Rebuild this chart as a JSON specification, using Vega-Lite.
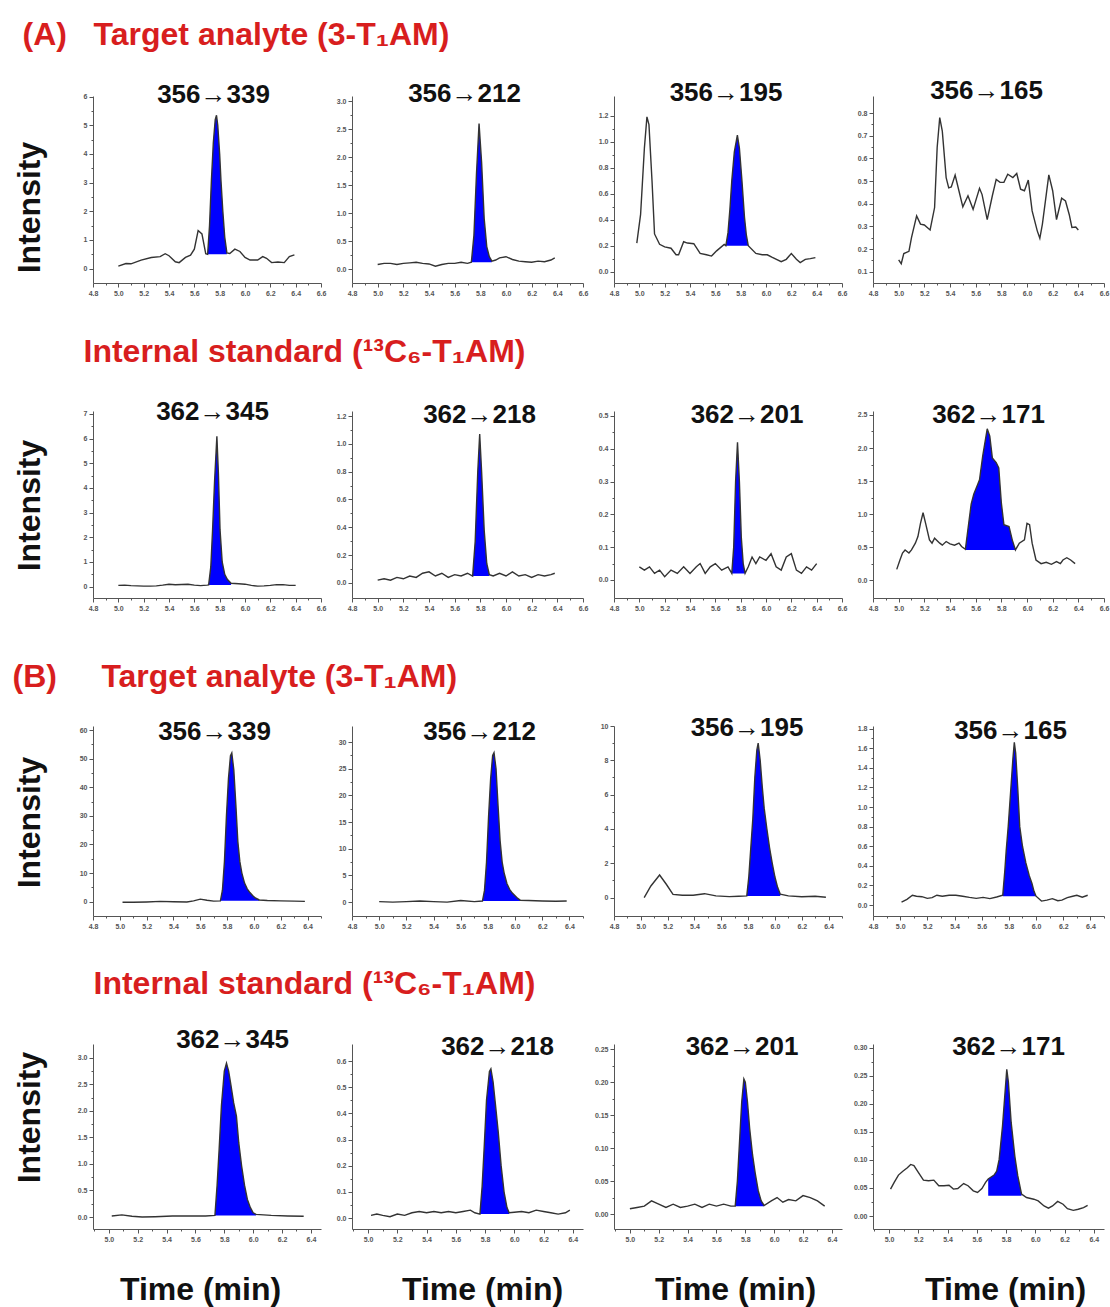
{
"$schema":"https://vega.github.io/schema/vega-lite/v6.json",
"padding":{"left":12,"top":18,"right":5,"bottom":3},
"background":"white",
"config":{"view":{"stroke":null},"font":"Liberation Sans",
"axis":{"grid":false,"domainColor":"#555","domainWidth":1,"tickColor":"#555","tickWidth":1,"labelFontSize":7,"labelFontWeight":"bold","labelColor":"#555","labelPadding":2,"labelOverlap":false,"labelFlush":false,"titleFontSize":32,"titleFontWeight":"bold","titleColor":"#111","titleFont":"Liberation Sans"},
"title":{"font":"Liberation Sans","fontSize":26,"fontWeight":"bold","color":"#111","frame":"group","baseline":"alphabetic","anchor":"middle"}},
"data":{"values":[
{"p":"a1","t":5.0,"v":0.09},{"p":"a1","t":5.06,"v":0.18},{"p":"a1","t":5.1,"v":0.17},{"p":"a1","t":5.18,"v":0.3},{"p":"a1","t":5.26,"v":0.39},{"p":"a1","t":5.33,"v":0.42},{"p":"a1","t":5.37,"v":0.52},{"p":"a1","t":5.4,"v":0.45},{"p":"a1","t":5.45,"v":0.24},{"p":"a1","t":5.48,"v":0.21},{"p":"a1","t":5.53,"v":0.39},{"p":"a1","t":5.57,"v":0.47},{"p":"a1","t":5.6,"v":0.68},{"p":"a1","t":5.63,"v":1.33},{"p":"a1","t":5.66,"v":1.21},{"p":"a1","t":5.69,"v":0.52},
{"p":"a1","t":5.705,"v":0.5,"b":0.5},{"p":"a1","t":5.72,"v":1.5,"b":0.5},{"p":"a1","t":5.735,"v":3.1,"b":0.5},{"p":"a1","t":5.75,"v":4.4,"b":0.5},{"p":"a1","t":5.765,"v":5.2,"b":0.5},{"p":"a1","t":5.775,"v":5.35,"b":0.5},{"p":"a1","t":5.785,"v":5.0,"b":0.5},{"p":"a1","t":5.8,"v":4.0,"b":0.5},{"p":"a1","t":5.81,"v":3.1,"b":0.5},{"p":"a1","t":5.825,"v":2.0,"b":0.5},{"p":"a1","t":5.84,"v":1.1,"b":0.5},{"p":"a1","t":5.857,"v":0.55,"b":0.5},
{"p":"a1","t":5.88,"v":0.53},{"p":"a1","t":5.92,"v":0.68},{"p":"a1","t":5.96,"v":0.6},{"p":"a1","t":6.0,"v":0.39},{"p":"a1","t":6.04,"v":0.3},{"p":"a1","t":6.1,"v":0.3},{"p":"a1","t":6.14,"v":0.42},{"p":"a1","t":6.17,"v":0.36},{"p":"a1","t":6.21,"v":0.21},{"p":"a1","t":6.26,"v":0.23},{"p":"a1","t":6.31,"v":0.21},{"p":"a1","t":6.35,"v":0.42},{"p":"a1","t":6.39,"v":0.48},

{"p":"a2","t":5.0,"v":0.08},{"p":"a2","t":5.05,"v":0.1},{"p":"a2","t":5.1,"v":0.1},{"p":"a2","t":5.15,"v":0.08},{"p":"a2","t":5.2,"v":0.1},{"p":"a2","t":5.25,"v":0.11},{"p":"a2","t":5.3,"v":0.12},{"p":"a2","t":5.35,"v":0.1},{"p":"a2","t":5.4,"v":0.09},{"p":"a2","t":5.45,"v":0.05},{"p":"a2","t":5.5,"v":0.08},{"p":"a2","t":5.55,"v":0.1},{"p":"a2","t":5.6,"v":0.1},{"p":"a2","t":5.65,"v":0.12},{"p":"a2","t":5.7,"v":0.1},
{"p":"a2","t":5.73,"v":0.12,"b":0.12},{"p":"a2","t":5.75,"v":0.6,"b":0.12},{"p":"a2","t":5.77,"v":1.7,"b":0.12},{"p":"a2","t":5.79,"v":2.6,"b":0.12},{"p":"a2","t":5.81,"v":1.9,"b":0.12},{"p":"a2","t":5.83,"v":0.9,"b":0.12},{"p":"a2","t":5.85,"v":0.4,"b":0.12},{"p":"a2","t":5.87,"v":0.22,"b":0.12},{"p":"a2","t":5.89,"v":0.14,"b":0.12},
{"p":"a2","t":5.92,"v":0.16},{"p":"a2","t":5.95,"v":0.2},{"p":"a2","t":6.0,"v":0.22},{"p":"a2","t":6.05,"v":0.17},{"p":"a2","t":6.1,"v":0.14},{"p":"a2","t":6.15,"v":0.13},{"p":"a2","t":6.2,"v":0.12},{"p":"a2","t":6.25,"v":0.14},{"p":"a2","t":6.3,"v":0.13},{"p":"a2","t":6.35,"v":0.16},{"p":"a2","t":6.38,"v":0.2},

{"p":"a3","t":4.98,"v":0.22},{"p":"a3","t":5.01,"v":0.44},{"p":"a3","t":5.04,"v":0.95},{"p":"a3","t":5.06,"v":1.19},{"p":"a3","t":5.076,"v":1.13},{"p":"a3","t":5.1,"v":0.7},{"p":"a3","t":5.12,"v":0.29},{"p":"a3","t":5.16,"v":0.21},{"p":"a3","t":5.2,"v":0.19},{"p":"a3","t":5.25,"v":0.18},{"p":"a3","t":5.29,"v":0.13},{"p":"a3","t":5.31,"v":0.13},{"p":"a3","t":5.35,"v":0.23},{"p":"a3","t":5.38,"v":0.22},{"p":"a3","t":5.43,"v":0.215},{"p":"a3","t":5.48,"v":0.14},{"p":"a3","t":5.53,"v":0.13},{"p":"a3","t":5.57,"v":0.12},{"p":"a3","t":5.61,"v":0.16},{"p":"a3","t":5.67,"v":0.21},
{"p":"a3","t":5.683,"v":0.2,"b":0.2},{"p":"a3","t":5.7,"v":0.3,"b":0.2},{"p":"a3","t":5.715,"v":0.48,"b":0.2},{"p":"a3","t":5.73,"v":0.7,"b":0.2},{"p":"a3","t":5.75,"v":0.92,"b":0.2},{"p":"a3","t":5.774,"v":1.05,"b":0.2},{"p":"a3","t":5.79,"v":0.95,"b":0.2},{"p":"a3","t":5.81,"v":0.7,"b":0.2},{"p":"a3","t":5.83,"v":0.42,"b":0.2},{"p":"a3","t":5.845,"v":0.28,"b":0.2},{"p":"a3","t":5.86,"v":0.2,"b":0.2},
{"p":"a3","t":5.92,"v":0.14},{"p":"a3","t":5.97,"v":0.13},{"p":"a3","t":6.01,"v":0.13},{"p":"a3","t":6.05,"v":0.11},{"p":"a3","t":6.12,"v":0.077},{"p":"a3","t":6.16,"v":0.095},{"p":"a3","t":6.2,"v":0.14},{"p":"a3","t":6.24,"v":0.095},{"p":"a3","t":6.27,"v":0.07},{"p":"a3","t":6.31,"v":0.095},{"p":"a3","t":6.35,"v":0.1},{"p":"a3","t":6.39,"v":0.108},

{"p":"a4","t":5.0,"v":0.152},{"p":"a4","t":5.02,"v":0.135},{"p":"a4","t":5.04,"v":0.18},{"p":"a4","t":5.08,"v":0.19},{"p":"a4","t":5.1,"v":0.25},{"p":"a4","t":5.14,"v":0.346},{"p":"a4","t":5.17,"v":0.31},{"p":"a4","t":5.2,"v":0.306},{"p":"a4","t":5.245,"v":0.284},{"p":"a4","t":5.28,"v":0.383},{"p":"a4","t":5.3,"v":0.648},{"p":"a4","t":5.32,"v":0.78},{"p":"a4","t":5.34,"v":0.72},{"p":"a4","t":5.37,"v":0.515},{"p":"a4","t":5.39,"v":0.47},{"p":"a4","t":5.41,"v":0.474},{"p":"a4","t":5.44,"v":0.526},{"p":"a4","t":5.47,"v":0.456},{"p":"a4","t":5.5,"v":0.386},{"p":"a4","t":5.54,"v":0.435},{"p":"a4","t":5.58,"v":0.375},{"p":"a4","t":5.63,"v":0.468},{"p":"a4","t":5.65,"v":0.44},{"p":"a4","t":5.69,"v":0.33},{"p":"a4","t":5.73,"v":0.435},{"p":"a4","t":5.76,"v":0.507},{"p":"a4","t":5.79,"v":0.494},{"p":"a4","t":5.82,"v":0.494},{"p":"a4","t":5.85,"v":0.53},{"p":"a4","t":5.89,"v":0.515},{"p":"a4","t":5.92,"v":0.533},{"p":"a4","t":5.95,"v":0.464},{"p":"a4","t":5.98,"v":0.457},{"p":"a4","t":6.01,"v":0.504},{"p":"a4","t":6.04,"v":0.368},{"p":"a4","t":6.08,"v":0.28},{"p":"a4","t":6.1,"v":0.247},{"p":"a4","t":6.12,"v":0.31},{"p":"a4","t":6.15,"v":0.44},{"p":"a4","t":6.17,"v":0.527},{"p":"a4","t":6.2,"v":0.457},{"p":"a4","t":6.23,"v":0.33},{"p":"a4","t":6.27,"v":0.424},{"p":"a4","t":6.3,"v":0.412},{"p":"a4","t":6.33,"v":0.35},{"p":"a4","t":6.35,"v":0.295},{"p":"a4","t":6.38,"v":0.297},{"p":"a4","t":6.4,"v":0.284},

{"p":"b1","t":5.0,"v":0.05},{"p":"b1","t":5.05,"v":0.06},{"p":"b1","t":5.1,"v":0.04},{"p":"b1","t":5.15,"v":0.03},{"p":"b1","t":5.2,"v":0.02},{"p":"b1","t":5.25,"v":0.02},{"p":"b1","t":5.3,"v":0.03},{"p":"b1","t":5.35,"v":0.06},{"p":"b1","t":5.4,"v":0.1},{"p":"b1","t":5.45,"v":0.08},{"p":"b1","t":5.5,"v":0.09},{"p":"b1","t":5.55,"v":0.1},{"p":"b1","t":5.6,"v":0.06},{"p":"b1","t":5.65,"v":0.04},{"p":"b1","t":5.7,"v":0.06},
{"p":"b1","t":5.713,"v":0.07,"b":0.07},{"p":"b1","t":5.73,"v":0.8,"b":0.07},{"p":"b1","t":5.744,"v":2.3,"b":0.07},{"p":"b1","t":5.76,"v":4.3,"b":0.07},{"p":"b1","t":5.778,"v":6.1,"b":0.07},{"p":"b1","t":5.79,"v":4.6,"b":0.07},{"p":"b1","t":5.803,"v":2.3,"b":0.07},{"p":"b1","t":5.82,"v":1.0,"b":0.07},{"p":"b1","t":5.84,"v":0.5,"b":0.07},{"p":"b1","t":5.86,"v":0.3,"b":0.07},{"p":"b1","t":5.89,"v":0.14,"b":0.07},
{"p":"b1","t":5.95,"v":0.12},{"p":"b1","t":6.0,"v":0.1},{"p":"b1","t":6.05,"v":0.05},{"p":"b1","t":6.1,"v":0.02},{"p":"b1","t":6.15,"v":0.03},{"p":"b1","t":6.2,"v":0.05},{"p":"b1","t":6.25,"v":0.08},{"p":"b1","t":6.3,"v":0.08},{"p":"b1","t":6.35,"v":0.05},{"p":"b1","t":6.4,"v":0.05},

{"p":"b2","t":5.0,"v":0.02},{"p":"b2","t":5.05,"v":0.03},{"p":"b2","t":5.1,"v":0.02},{"p":"b2","t":5.15,"v":0.04},{"p":"b2","t":5.2,"v":0.03},{"p":"b2","t":5.25,"v":0.05},{"p":"b2","t":5.3,"v":0.04},{"p":"b2","t":5.35,"v":0.07},{"p":"b2","t":5.4,"v":0.08},{"p":"b2","t":5.45,"v":0.05},{"p":"b2","t":5.5,"v":0.07},{"p":"b2","t":5.55,"v":0.04},{"p":"b2","t":5.6,"v":0.06},{"p":"b2","t":5.65,"v":0.05},{"p":"b2","t":5.7,"v":0.07},
{"p":"b2","t":5.74,"v":0.05,"b":0.05},{"p":"b2","t":5.76,"v":0.3,"b":0.05},{"p":"b2","t":5.78,"v":0.8,"b":0.05},{"p":"b2","t":5.795,"v":1.07,"b":0.05},{"p":"b2","t":5.81,"v":0.8,"b":0.05},{"p":"b2","t":5.83,"v":0.38,"b":0.05},{"p":"b2","t":5.85,"v":0.14,"b":0.05},{"p":"b2","t":5.87,"v":0.06,"b":0.05},
{"p":"b2","t":5.9,"v":0.05},{"p":"b2","t":5.95,"v":0.07},{"p":"b2","t":6.0,"v":0.05},{"p":"b2","t":6.05,"v":0.08},{"p":"b2","t":6.1,"v":0.05},{"p":"b2","t":6.15,"v":0.06},{"p":"b2","t":6.2,"v":0.04},{"p":"b2","t":6.25,"v":0.06},{"p":"b2","t":6.3,"v":0.05},{"p":"b2","t":6.35,"v":0.06},{"p":"b2","t":6.38,"v":0.07},

{"p":"b3","t":5.0,"v":0.04},{"p":"b3","t":5.04,"v":0.03},{"p":"b3","t":5.08,"v":0.04},{"p":"b3","t":5.12,"v":0.02},{"p":"b3","t":5.16,"v":0.03},{"p":"b3","t":5.2,"v":0.01},{"p":"b3","t":5.25,"v":0.03},{"p":"b3","t":5.3,"v":0.02},{"p":"b3","t":5.35,"v":0.04},{"p":"b3","t":5.4,"v":0.02},{"p":"b3","t":5.45,"v":0.04},{"p":"b3","t":5.48,"v":0.05},{"p":"b3","t":5.52,"v":0.02},{"p":"b3","t":5.56,"v":0.04},{"p":"b3","t":5.6,"v":0.05},{"p":"b3","t":5.65,"v":0.03},{"p":"b3","t":5.7,"v":0.04},
{"p":"b3","t":5.73,"v":0.02,"b":0.02},{"p":"b3","t":5.745,"v":0.1,"b":0.02},{"p":"b3","t":5.76,"v":0.3,"b":0.02},{"p":"b3","t":5.775,"v":0.42,"b":0.02},{"p":"b3","t":5.79,"v":0.3,"b":0.02},{"p":"b3","t":5.805,"v":0.13,"b":0.02},{"p":"b3","t":5.82,"v":0.05,"b":0.02},{"p":"b3","t":5.835,"v":0.02,"b":0.02},
{"p":"b3","t":5.86,"v":0.04},{"p":"b3","t":5.89,"v":0.07},{"p":"b3","t":5.92,"v":0.05},{"p":"b3","t":5.95,"v":0.07},{"p":"b3","t":6.0,"v":0.06},{"p":"b3","t":6.04,"v":0.08},{"p":"b3","t":6.08,"v":0.04},{"p":"b3","t":6.12,"v":0.03},{"p":"b3","t":6.16,"v":0.07},{"p":"b3","t":6.2,"v":0.08},{"p":"b3","t":6.24,"v":0.03},{"p":"b3","t":6.28,"v":0.02},{"p":"b3","t":6.32,"v":0.04},{"p":"b3","t":6.36,"v":0.03},{"p":"b3","t":6.4,"v":0.05},

{"p":"b4","t":4.985,"v":0.163},{"p":"b4","t":5.01,"v":0.305},{"p":"b4","t":5.03,"v":0.41},{"p":"b4","t":5.05,"v":0.457},{"p":"b4","t":5.08,"v":0.41},{"p":"b4","t":5.1,"v":0.457},{"p":"b4","t":5.13,"v":0.56},{"p":"b4","t":5.15,"v":0.66},{"p":"b4","t":5.17,"v":0.86},{"p":"b4","t":5.19,"v":1.02},{"p":"b4","t":5.21,"v":0.86},{"p":"b4","t":5.24,"v":0.61},{"p":"b4","t":5.26,"v":0.56},{"p":"b4","t":5.28,"v":0.635},{"p":"b4","t":5.32,"v":0.56},{"p":"b4","t":5.34,"v":0.53},{"p":"b4","t":5.37,"v":0.585},{"p":"b4","t":5.4,"v":0.55},{"p":"b4","t":5.435,"v":0.53},{"p":"b4","t":5.47,"v":0.56},{"p":"b4","t":5.49,"v":0.51},
{"p":"b4","t":5.52,"v":0.467,"b":0.457},{"p":"b4","t":5.545,"v":0.85,"b":0.457},{"p":"b4","t":5.565,"v":1.15,"b":0.457},{"p":"b4","t":5.585,"v":1.3,"b":0.457},{"p":"b4","t":5.61,"v":1.42,"b":0.457},{"p":"b4","t":5.63,"v":1.52,"b":0.457},{"p":"b4","t":5.655,"v":1.88,"b":0.457},{"p":"b4","t":5.69,"v":2.29,"b":0.457},{"p":"b4","t":5.71,"v":2.18,"b":0.457},{"p":"b4","t":5.73,"v":1.85,"b":0.457},{"p":"b4","t":5.76,"v":1.78,"b":0.457},{"p":"b4","t":5.78,"v":1.7,"b":0.457},{"p":"b4","t":5.8,"v":1.17,"b":0.457},{"p":"b4","t":5.82,"v":0.84,"b":0.457},{"p":"b4","t":5.86,"v":0.81,"b":0.457},{"p":"b4","t":5.885,"v":0.61,"b":0.457},{"p":"b4","t":5.91,"v":0.457,"b":0.457},
{"p":"b4","t":5.94,"v":0.56},{"p":"b4","t":5.98,"v":0.61},{"p":"b4","t":6.0,"v":0.86},{"p":"b4","t":6.02,"v":0.84},{"p":"b4","t":6.04,"v":0.56},{"p":"b4","t":6.07,"v":0.305},{"p":"b4","t":6.11,"v":0.25},{"p":"b4","t":6.15,"v":0.27},{"p":"b4","t":6.19,"v":0.24},{"p":"b4","t":6.23,"v":0.28},{"p":"b4","t":6.26,"v":0.25},{"p":"b4","t":6.28,"v":0.305},{"p":"b4","t":6.31,"v":0.34},{"p":"b4","t":6.34,"v":0.305},{"p":"b4","t":6.375,"v":0.25},

{"p":"c1","t":5.02,"v":-0.2},{"p":"c1","t":5.1,"v":-0.2},{"p":"c1","t":5.2,"v":-0.1},{"p":"c1","t":5.3,"v":0.1},{"p":"c1","t":5.4,"v":0.0},{"p":"c1","t":5.5,"v":-0.1},{"p":"c1","t":5.55,"v":0.3},{"p":"c1","t":5.6,"v":0.9},{"p":"c1","t":5.65,"v":0.5},{"p":"c1","t":5.7,"v":0.2},
{"p":"c1","t":5.75,"v":0.3,"b":0.3},{"p":"c1","t":5.765,"v":4,"b":0.3},{"p":"c1","t":5.78,"v":14,"b":0.3},{"p":"c1","t":5.795,"v":30,"b":0.3},{"p":"c1","t":5.81,"v":43,"b":0.3},{"p":"c1","t":5.825,"v":51,"b":0.3},{"p":"c1","t":5.835,"v":52,"b":0.3},{"p":"c1","t":5.85,"v":46,"b":0.3},{"p":"c1","t":5.865,"v":34,"b":0.3},{"p":"c1","t":5.88,"v":21,"b":0.3},{"p":"c1","t":5.895,"v":14,"b":0.3},{"p":"c1","t":5.91,"v":10,"b":0.3},{"p":"c1","t":5.93,"v":6.5,"b":0.3},{"p":"c1","t":5.95,"v":4.5,"b":0.3},{"p":"c1","t":5.97,"v":3.2,"b":0.3},{"p":"c1","t":5.99,"v":2.2,"b":0.3},{"p":"c1","t":6.01,"v":1.3,"b":0.3},{"p":"c1","t":6.04,"v":0.6,"b":0.3},
{"p":"c1","t":6.1,"v":0.4},{"p":"c1","t":6.2,"v":0.3},{"p":"c1","t":6.3,"v":0.2},{"p":"c1","t":6.38,"v":0.1},

{"p":"c2","t":5.0,"v":0.1},{"p":"c2","t":5.1,"v":0.0},{"p":"c2","t":5.2,"v":0.1},{"p":"c2","t":5.3,"v":0.2},{"p":"c2","t":5.4,"v":0.1},{"p":"c2","t":5.5,"v":0.0},{"p":"c2","t":5.6,"v":0.3},{"p":"c2","t":5.7,"v":0.1},
{"p":"c2","t":5.76,"v":0.2,"b":0.2},{"p":"c2","t":5.775,"v":2.2,"b":0.2},{"p":"c2","t":5.79,"v":7.5,"b":0.2},{"p":"c2","t":5.805,"v":16,"b":0.2},{"p":"c2","t":5.82,"v":23,"b":0.2},{"p":"c2","t":5.835,"v":27.5,"b":0.2},{"p":"c2","t":5.845,"v":28,"b":0.2},{"p":"c2","t":5.86,"v":25,"b":0.2},{"p":"c2","t":5.875,"v":18,"b":0.2},{"p":"c2","t":5.89,"v":11.5,"b":0.2},{"p":"c2","t":5.905,"v":7.5,"b":0.2},{"p":"c2","t":5.92,"v":5.4,"b":0.2},{"p":"c2","t":5.94,"v":3.5,"b":0.2},{"p":"c2","t":5.96,"v":2.4,"b":0.2},{"p":"c2","t":5.98,"v":1.7,"b":0.2},{"p":"c2","t":6.0,"v":1.2,"b":0.2},{"p":"c2","t":6.02,"v":0.7,"b":0.2},{"p":"c2","t":6.04,"v":0.35,"b":0.2},
{"p":"c2","t":6.1,"v":0.3},{"p":"c2","t":6.2,"v":0.2},{"p":"c2","t":6.3,"v":0.15},{"p":"c2","t":6.38,"v":0.2},

{"p":"c3","t":5.025,"v":0.0},{"p":"c3","t":5.075,"v":0.68},{"p":"c3","t":5.14,"v":1.32},{"p":"c3","t":5.19,"v":0.78},{"p":"c3","t":5.24,"v":0.19},{"p":"c3","t":5.31,"v":0.14},{"p":"c3","t":5.39,"v":0.14},{"p":"c3","t":5.475,"v":0.23},{"p":"c3","t":5.56,"v":0.1},{"p":"c3","t":5.66,"v":0.06},{"p":"c3","t":5.73,"v":0.08},
{"p":"c3","t":5.79,"v":0.1,"b":0.1},{"p":"c3","t":5.805,"v":1.2,"b":0.1},{"p":"c3","t":5.82,"v":2.9,"b":0.1},{"p":"c3","t":5.835,"v":4.6,"b":0.1},{"p":"c3","t":5.85,"v":7.0,"b":0.1},{"p":"c3","t":5.865,"v":8.6,"b":0.1},{"p":"c3","t":5.875,"v":9.0,"b":0.1},{"p":"c3","t":5.89,"v":8.0,"b":0.1},{"p":"c3","t":5.905,"v":6.5,"b":0.1},{"p":"c3","t":5.92,"v":5.2,"b":0.1},{"p":"c3","t":5.94,"v":4.0,"b":0.1},{"p":"c3","t":5.96,"v":2.9,"b":0.1},{"p":"c3","t":5.98,"v":2.0,"b":0.1},{"p":"c3","t":6.0,"v":1.2,"b":0.1},{"p":"c3","t":6.02,"v":0.6,"b":0.1},{"p":"c3","t":6.04,"v":0.2,"b":0.1},
{"p":"c3","t":6.1,"v":0.1},{"p":"c3","t":6.2,"v":0.05},{"p":"c3","t":6.3,"v":0.08},{"p":"c3","t":6.38,"v":0.02},

{"p":"c4","t":5.01,"v":0.03},{"p":"c4","t":5.05,"v":0.058},{"p":"c4","t":5.09,"v":0.1},{"p":"c4","t":5.12,"v":0.09},{"p":"c4","t":5.16,"v":0.085},{"p":"c4","t":5.2,"v":0.068},{"p":"c4","t":5.235,"v":0.075},{"p":"c4","t":5.27,"v":0.1},{"p":"c4","t":5.31,"v":0.09},{"p":"c4","t":5.36,"v":0.1},{"p":"c4","t":5.41,"v":0.1},{"p":"c4","t":5.46,"v":0.09},{"p":"c4","t":5.51,"v":0.078},{"p":"c4","t":5.56,"v":0.068},{"p":"c4","t":5.61,"v":0.078},{"p":"c4","t":5.66,"v":0.065},{"p":"c4","t":5.71,"v":0.082},
{"p":"c4","t":5.755,"v":0.1,"b":0.09},{"p":"c4","t":5.77,"v":0.35,"b":0.09},{"p":"c4","t":5.78,"v":0.55,"b":0.09},{"p":"c4","t":5.795,"v":0.8,"b":0.09},{"p":"c4","t":5.815,"v":1.2,"b":0.09},{"p":"c4","t":5.83,"v":1.5,"b":0.09},{"p":"c4","t":5.84,"v":1.66,"b":0.09},{"p":"c4","t":5.85,"v":1.55,"b":0.09},{"p":"c4","t":5.865,"v":1.2,"b":0.09},{"p":"c4","t":5.88,"v":0.8,"b":0.09},{"p":"c4","t":5.9,"v":0.6,"b":0.09},{"p":"c4","t":5.925,"v":0.43,"b":0.09},{"p":"c4","t":5.95,"v":0.3,"b":0.09},{"p":"c4","t":5.97,"v":0.22,"b":0.09},{"p":"c4","t":5.985,"v":0.14,"b":0.09},{"p":"c4","t":6.0,"v":0.09,"b":0.09},
{"p":"c4","t":6.04,"v":0.04},{"p":"c4","t":6.08,"v":0.05},{"p":"c4","t":6.12,"v":0.065},{"p":"c4","t":6.16,"v":0.044},{"p":"c4","t":6.19,"v":0.05},{"p":"c4","t":6.23,"v":0.075},{"p":"c4","t":6.27,"v":0.09},{"p":"c4","t":6.3,"v":0.1},{"p":"c4","t":6.34,"v":0.08},{"p":"c4","t":6.38,"v":0.1},

{"p":"d1","t":5.02,"v":0.02},{"p":"d1","t":5.09,"v":0.04},{"p":"d1","t":5.16,"v":0.013},{"p":"d1","t":5.23,"v":0.0},{"p":"d1","t":5.32,"v":0.006},{"p":"d1","t":5.44,"v":0.02},{"p":"d1","t":5.55,"v":0.02},{"p":"d1","t":5.67,"v":0.02},
{"p":"d1","t":5.735,"v":0.03,"b":0.03},{"p":"d1","t":5.75,"v":0.6,"b":0.03},{"p":"d1","t":5.764,"v":1.27,"b":0.03},{"p":"d1","t":5.78,"v":2.1,"b":0.03},{"p":"d1","t":5.8,"v":2.75,"b":0.03},{"p":"d1","t":5.815,"v":2.9,"b":0.03},{"p":"d1","t":5.83,"v":2.75,"b":0.03},{"p":"d1","t":5.845,"v":2.5,"b":0.03},{"p":"d1","t":5.865,"v":2.15,"b":0.03},{"p":"d1","t":5.884,"v":1.9,"b":0.03},{"p":"d1","t":5.9,"v":1.4,"b":0.03},{"p":"d1","t":5.92,"v":0.96,"b":0.03},{"p":"d1","t":5.94,"v":0.6,"b":0.03},{"p":"d1","t":5.96,"v":0.33,"b":0.03},{"p":"d1","t":5.98,"v":0.18,"b":0.03},{"p":"d1","t":6.0,"v":0.08,"b":0.03},{"p":"d1","t":6.02,"v":0.05,"b":0.03},
{"p":"d1","t":6.125,"v":0.03},{"p":"d1","t":6.24,"v":0.02},{"p":"d1","t":6.35,"v":0.013},

{"p":"d2","t":5.02,"v":0.01},{"p":"d2","t":5.06,"v":0.015},{"p":"d2","t":5.1,"v":0.01},{"p":"d2","t":5.15,"v":0.005},{"p":"d2","t":5.2,"v":0.015},{"p":"d2","t":5.25,"v":0.01},{"p":"d2","t":5.3,"v":0.02},{"p":"d2","t":5.35,"v":0.025},{"p":"d2","t":5.4,"v":0.02},{"p":"d2","t":5.45,"v":0.025},{"p":"d2","t":5.5,"v":0.02},{"p":"d2","t":5.55,"v":0.025},{"p":"d2","t":5.6,"v":0.02},{"p":"d2","t":5.65,"v":0.025},{"p":"d2","t":5.7,"v":0.03},{"p":"d2","t":5.73,"v":0.02},
{"p":"d2","t":5.765,"v":0.015,"b":0.015},{"p":"d2","t":5.78,"v":0.12,"b":0.015},{"p":"d2","t":5.795,"v":0.28,"b":0.015},{"p":"d2","t":5.81,"v":0.45,"b":0.015},{"p":"d2","t":5.83,"v":0.56,"b":0.015},{"p":"d2","t":5.84,"v":0.57,"b":0.015},{"p":"d2","t":5.855,"v":0.52,"b":0.015},{"p":"d2","t":5.87,"v":0.44,"b":0.015},{"p":"d2","t":5.89,"v":0.33,"b":0.015},{"p":"d2","t":5.91,"v":0.2,"b":0.015},{"p":"d2","t":5.93,"v":0.1,"b":0.015},{"p":"d2","t":5.95,"v":0.04,"b":0.015},{"p":"d2","t":5.965,"v":0.02,"b":0.015},
{"p":"d2","t":6.0,"v":0.022},{"p":"d2","t":6.05,"v":0.025},{"p":"d2","t":6.1,"v":0.02},{"p":"d2","t":6.15,"v":0.03},{"p":"d2","t":6.2,"v":0.025},{"p":"d2","t":6.25,"v":0.02},{"p":"d2","t":6.3,"v":0.015},{"p":"d2","t":6.35,"v":0.02},{"p":"d2","t":6.38,"v":0.03},

{"p":"d3","t":5.0,"v":0.008},{"p":"d3","t":5.05,"v":0.01},{"p":"d3","t":5.1,"v":0.012},{"p":"d3","t":5.15,"v":0.02},{"p":"d3","t":5.2,"v":0.015},{"p":"d3","t":5.25,"v":0.01},{"p":"d3","t":5.3,"v":0.015},{"p":"d3","t":5.35,"v":0.01},{"p":"d3","t":5.4,"v":0.012},{"p":"d3","t":5.45,"v":0.015},{"p":"d3","t":5.5,"v":0.01},{"p":"d3","t":5.55,"v":0.015},{"p":"d3","t":5.6,"v":0.012},{"p":"d3","t":5.65,"v":0.015},{"p":"d3","t":5.7,"v":0.012},
{"p":"d3","t":5.73,"v":0.012,"b":0.012},{"p":"d3","t":5.745,"v":0.05,"b":0.012},{"p":"d3","t":5.76,"v":0.11,"b":0.012},{"p":"d3","t":5.775,"v":0.17,"b":0.012},{"p":"d3","t":5.79,"v":0.205,"b":0.012},{"p":"d3","t":5.8,"v":0.2,"b":0.012},{"p":"d3","t":5.815,"v":0.17,"b":0.012},{"p":"d3","t":5.83,"v":0.13,"b":0.012},{"p":"d3","t":5.85,"v":0.09,"b":0.012},{"p":"d3","t":5.87,"v":0.06,"b":0.012},{"p":"d3","t":5.89,"v":0.035,"b":0.012},{"p":"d3","t":5.91,"v":0.02,"b":0.012},{"p":"d3","t":5.93,"v":0.013,"b":0.012},
{"p":"d3","t":5.98,"v":0.02},{"p":"d3","t":6.02,"v":0.025},{"p":"d3","t":6.06,"v":0.018},{"p":"d3","t":6.1,"v":0.022},{"p":"d3","t":6.15,"v":0.02},{"p":"d3","t":6.2,"v":0.028},{"p":"d3","t":6.25,"v":0.025},{"p":"d3","t":6.3,"v":0.02},{"p":"d3","t":6.35,"v":0.012},

{"p":"d4","t":5.01,"v":0.048},{"p":"d4","t":5.035,"v":0.06},{"p":"d4","t":5.064,"v":0.073},{"p":"d4","t":5.094,"v":0.08},{"p":"d4","t":5.125,"v":0.086},{"p":"d4","t":5.148,"v":0.092},{"p":"d4","t":5.17,"v":0.09},{"p":"d4","t":5.2,"v":0.078},{"p":"d4","t":5.235,"v":0.064},{"p":"d4","t":5.27,"v":0.063},{"p":"d4","t":5.306,"v":0.064},{"p":"d4","t":5.34,"v":0.054},{"p":"d4","t":5.376,"v":0.054},{"p":"d4","t":5.41,"v":0.055},{"p":"d4","t":5.44,"v":0.048},{"p":"d4","t":5.47,"v":0.049},{"p":"d4","t":5.51,"v":0.058},{"p":"d4","t":5.54,"v":0.054},{"p":"d4","t":5.576,"v":0.045},{"p":"d4","t":5.605,"v":0.042},{"p":"d4","t":5.635,"v":0.049},{"p":"d4","t":5.66,"v":0.06},
{"p":"d4","t":5.678,"v":0.066,"b":0.036},{"p":"d4","t":5.718,"v":0.073,"b":0.036},{"p":"d4","t":5.736,"v":0.08,"b":0.036},{"p":"d4","t":5.753,"v":0.101,"b":0.036},{"p":"d4","t":5.776,"v":0.161,"b":0.036},{"p":"d4","t":5.805,"v":0.262,"b":0.036},{"p":"d4","t":5.816,"v":0.239,"b":0.036},{"p":"d4","t":5.835,"v":0.167,"b":0.036},{"p":"d4","t":5.86,"v":0.107,"b":0.036},{"p":"d4","t":5.88,"v":0.072,"b":0.036},{"p":"d4","t":5.906,"v":0.039,"b":0.036},
{"p":"d4","t":5.94,"v":0.033},{"p":"d4","t":5.99,"v":0.03},{"p":"d4","t":6.02,"v":0.027},{"p":"d4","t":6.06,"v":0.018},{"p":"d4","t":6.09,"v":0.014},{"p":"d4","t":6.118,"v":0.018},{"p":"d4","t":6.153,"v":0.026},{"p":"d4","t":6.19,"v":0.021},{"p":"d4","t":6.22,"v":0.013},{"p":"d4","t":6.26,"v":0.01},{"p":"d4","t":6.294,"v":0.012},{"p":"d4","t":6.33,"v":0.015},{"p":"d4","t":6.358,"v":0.019}
]},
"columns":4,
"spacing":{"row":128,"column":31},
"bounds":"flush",
"concat":[

{"width":228,"height":187,
"resolve":{"axis":{"x":"independent","y":"independent"}},
"layer":[
{"encoding":{"x":{"field":"t","type":"quantitative","title":null,"scale":{"domain":[4.8,6.6],"nice":false,"zero":false},"axis":{"values":[4.8,4.9,5,5.1,5.2,5.3,5.4,5.5,5.6,5.7,5.8,5.9,6,6.1,6.2,6.3,6.4,6.5,6.6],"labelExpr":"abs(datum.value*5-round(datum.value*5))<0.01 ? format(datum.value,'.1f') : ''","tickSize":{"condition":{"test":"abs(datum.value*5-round(datum.value*5))<0.01","value":4},"value":2}}},
"y":{"field":"v","type":"quantitative","title":"Intensity","scale":{"domain":[-0.5,6.02],"nice":false,"zero":false},"axis":{"values":[0,0.5,1,1.5,2,2.5,3,3.5,4,4.5,5,5.5,6],"labelExpr":"abs(datum.value-round(datum.value))<0.01 ? format(datum.value,'d') : ''","tickSize":{"condition":{"test":"abs(datum.value-round(datum.value))<0.01","value":4},"value":2},"titleX":-64,"titleY":111,"titleAngle":270,"titleBaseline":"middle","titleAlign":"center"}}},
"layer":[{"transform":[{"filter":"datum.p=='a1' && isValid(datum.b)"}],"mark":{"type":"area","color":"#0000ff"},"encoding":{"y2":{"field":"b"}}},{"transform":[{"filter":"datum.p=='a1'"}],"mark":{"type":"line","color":"#333","strokeWidth":1.4},"encoding":{}}]},
{"transform":[{"filter":"datum.p=='a1'"}],"mark":{"type":"point","opacity":0},"encoding":{
"x":{"field":"t","type":"quantitative","scale":{"domain":[4.8,6.6],"nice":false,"zero":false},"axis":{"orient":"top","title":"(A)\u00a0\u00a0\u00a0Target analyte (3-T₁AM)","domain":false,"ticks":false,"labels":false,"titleX":-71,"titleY":-52,"titleAlign":"left","titleBaseline":"alphabetic","titleAngle":0,"titleColor":"#d81e1e","titleFontSize":32}},
"y":{"field":"v","type":"quantitative","scale":{"domain":[-0.5,6.02],"nice":false,"zero":false},"axis":{"orient":"right","title":"356→339","domain":false,"ticks":false,"labels":false,"titleX":-108,"titleY":6,"titleAlign":"center","titleBaseline":"alphabetic","titleAngle":0,"titleColor":"#111","titleFontSize":26}}}}
]},

{"width":231,"height":187,"title":{"text":"356→212","dx":-3,"offset":-11},
"encoding":{"x":{"field":"t","type":"quantitative","title":null,"scale":{"domain":[4.8,6.6],"nice":false,"zero":false},"axis":{"values":[4.8,4.9,5,5.1,5.2,5.3,5.4,5.5,5.6,5.7,5.8,5.9,6,6.1,6.2,6.3,6.4,6.5,6.6],"labelExpr":"abs(datum.value*5-round(datum.value*5))<0.01 ? format(datum.value,'.1f') : ''","tickSize":{"condition":{"test":"abs(datum.value*5-round(datum.value*5))<0.01","value":4},"value":2}}},
"y":{"field":"v","type":"quantitative","title":null,"scale":{"domain":[-0.25,3.09],"nice":false,"zero":false},"axis":{"values":[0,0.25,0.5,0.75,1,1.25,1.5,1.75,2,2.25,2.5,2.75,3],"labelExpr":"abs(datum.value/0.5-round(datum.value/0.5))<0.01 ? format(datum.value,'.1f') : ''","tickSize":{"condition":{"test":"abs(datum.value/0.5-round(datum.value/0.5))<0.01","value":4},"value":2}}}},
"layer":[{"transform":[{"filter":"datum.p=='a2' && isValid(datum.b)"}],"mark":{"type":"area","color":"#0000ff"},"encoding":{"y2":{"field":"b"}}},{"transform":[{"filter":"datum.p=='a2'"}],"mark":{"type":"line","color":"#333","strokeWidth":1.4},"encoding":{}}]},

{"width":228,"height":187,"title":{"text":"356→195","dx":-2,"offset":-10},
"encoding":{"x":{"field":"t","type":"quantitative","title":null,"scale":{"domain":[4.8,6.6],"nice":false,"zero":false},"axis":{"values":[4.8,4.9,5,5.1,5.2,5.3,5.4,5.5,5.6,5.7,5.8,5.9,6,6.1,6.2,6.3,6.4,6.5,6.6],"labelExpr":"abs(datum.value*5-round(datum.value*5))<0.01 ? format(datum.value,'.1f') : ''","tickSize":{"condition":{"test":"abs(datum.value*5-round(datum.value*5))<0.01","value":4},"value":2}}},
"y":{"field":"v","type":"quantitative","title":null,"scale":{"domain":[-0.087,1.35],"nice":false,"zero":false},"axis":{"values":[0,0.1,0.2,0.3,0.4,0.5,0.6,0.7,0.8,0.9,1,1.1,1.2],"labelExpr":"abs(datum.value/0.2-round(datum.value/0.2))<0.01 ? format(datum.value,'.1f') : ''","tickSize":{"condition":{"test":"abs(datum.value/0.2-round(datum.value/0.2))<0.01","value":4},"value":2}}}},
"layer":[{"transform":[{"filter":"datum.p=='a3' && isValid(datum.b)"}],"mark":{"type":"area","color":"#0000ff"},"encoding":{"y2":{"field":"b"}}},{"transform":[{"filter":"datum.p=='a3'"}],"mark":{"type":"line","color":"#333","strokeWidth":1.4},"encoding":{}}]},

{"width":231,"height":187,"title":{"text":"356→165","dx":-2,"offset":-8},
"encoding":{"x":{"field":"t","type":"quantitative","title":null,"scale":{"domain":[4.8,6.6],"nice":false,"zero":false},"axis":{"values":[4.8,4.9,5,5.1,5.2,5.3,5.4,5.5,5.6,5.7,5.8,5.9,6,6.1,6.2,6.3,6.4,6.5,6.6],"labelExpr":"abs(datum.value*5-round(datum.value*5))<0.01 ? format(datum.value,'.1f') : ''","tickSize":{"condition":{"test":"abs(datum.value*5-round(datum.value*5))<0.01","value":4},"value":2}}},
"y":{"field":"v","type":"quantitative","title":null,"scale":{"domain":[0.05,0.875],"nice":false,"zero":false},"axis":{"values":[0.1,0.15,0.2,0.25,0.3,0.35,0.4,0.45,0.5,0.55,0.6,0.65,0.7,0.75,0.8],"labelExpr":"abs(datum.value/0.1-round(datum.value/0.1))<0.01 ? format(datum.value,'.1f') : ''","tickSize":{"condition":{"test":"abs(datum.value/0.1-round(datum.value/0.1))<0.01","value":4},"value":2}}}},
"layer":[{"transform":[{"filter":"datum.p=='a4'"}],"mark":{"type":"line","color":"#333","strokeWidth":1.4},"encoding":{}}]},

{"width":228,"height":187,
"resolve":{"axis":{"x":"independent","y":"independent"}},
"layer":[
{"encoding":{"x":{"field":"t","type":"quantitative","title":null,"scale":{"domain":[4.8,6.6],"nice":false,"zero":false},"axis":{"values":[4.8,4.9,5,5.1,5.2,5.3,5.4,5.5,5.6,5.7,5.8,5.9,6,6.1,6.2,6.3,6.4,6.5,6.6],"labelExpr":"abs(datum.value*5-round(datum.value*5))<0.01 ? format(datum.value,'.1f') : ''","tickSize":{"condition":{"test":"abs(datum.value*5-round(datum.value*5))<0.01","value":4},"value":2}}},
"y":{"field":"v","type":"quantitative","title":"Intensity","scale":{"domain":[-0.46,7.12],"nice":false,"zero":false},"axis":{"values":[0,0.5,1,1.5,2,2.5,3,3.5,4,4.5,5,5.5,6,6.5,7],"labelExpr":"abs(datum.value-round(datum.value))<0.01 ? format(datum.value,'d') : ''","tickSize":{"condition":{"test":"abs(datum.value-round(datum.value))<0.01","value":4},"value":2},"titleX":-64,"titleY":94,"titleAngle":270,"titleBaseline":"middle","titleAlign":"center"}}},
"layer":[{"transform":[{"filter":"datum.p=='b1' && isValid(datum.b)"}],"mark":{"type":"area","color":"#0000ff"},"encoding":{"y2":{"field":"b"}}},{"transform":[{"filter":"datum.p=='b1'"}],"mark":{"type":"line","color":"#333","strokeWidth":1.4},"encoding":{}}]},
{"transform":[{"filter":"datum.p=='b1'"}],"mark":{"type":"point","opacity":0},"encoding":{
"x":{"field":"t","type":"quantitative","scale":{"domain":[4.8,6.6],"nice":false,"zero":false},"axis":{"orient":"top","title":"Internal standard (¹³C₆-T₁AM)","domain":false,"ticks":false,"labels":false,"titleX":-10,"titleY":-50,"titleAlign":"left","titleBaseline":"alphabetic","titleAngle":0,"titleColor":"#d81e1e","titleFontSize":32}},
"y":{"field":"v","type":"quantitative","scale":{"domain":[-0.46,7.12],"nice":false,"zero":false},"axis":{"orient":"right","title":"362→345","domain":false,"ticks":false,"labels":false,"titleX":-109,"titleY":8,"titleAlign":"center","titleBaseline":"alphabetic","titleAngle":0,"titleColor":"#111","titleFontSize":26}}}}
]},

{"width":231,"height":187,"title":{"text":"362→218","dx":12,"offset":-17},
"encoding":{"x":{"field":"t","type":"quantitative","title":null,"scale":{"domain":[4.8,6.6],"nice":false,"zero":false},"axis":{"values":[4.8,4.9,5,5.1,5.2,5.3,5.4,5.5,5.6,5.7,5.8,5.9,6,6.1,6.2,6.3,6.4,6.5,6.6],"labelExpr":"abs(datum.value*5-round(datum.value*5))<0.01 ? format(datum.value,'.1f') : ''","tickSize":{"condition":{"test":"abs(datum.value*5-round(datum.value*5))<0.01","value":4},"value":2}}},
"y":{"field":"v","type":"quantitative","title":null,"scale":{"domain":[-0.108,1.236],"nice":false,"zero":false},"axis":{"values":[0,0.1,0.2,0.3,0.4,0.5,0.6,0.7,0.8,0.9,1,1.1,1.2],"labelExpr":"abs(datum.value/0.2-round(datum.value/0.2))<0.01 ? format(datum.value,'.1f') : ''","tickSize":{"condition":{"test":"abs(datum.value/0.2-round(datum.value/0.2))<0.01","value":4},"value":2}}}},
"layer":[{"transform":[{"filter":"datum.p=='b2' && isValid(datum.b)"}],"mark":{"type":"area","color":"#0000ff"},"encoding":{"y2":{"field":"b"}}},{"transform":[{"filter":"datum.p=='b2'"}],"mark":{"type":"line","color":"#333","strokeWidth":1.4},"encoding":{}}]},

{"width":228,"height":187,"title":{"text":"362→201","dx":19,"offset":-17},
"encoding":{"x":{"field":"t","type":"quantitative","title":null,"scale":{"domain":[4.8,6.6],"nice":false,"zero":false},"axis":{"values":[4.8,4.9,5,5.1,5.2,5.3,5.4,5.5,5.6,5.7,5.8,5.9,6,6.1,6.2,6.3,6.4,6.5,6.6],"labelExpr":"abs(datum.value*5-round(datum.value*5))<0.01 ? format(datum.value,'.1f') : ''","tickSize":{"condition":{"test":"abs(datum.value*5-round(datum.value*5))<0.01","value":4},"value":2}}},
"y":{"field":"v","type":"quantitative","title":null,"scale":{"domain":[-0.055,0.515],"nice":false,"zero":false},"axis":{"values":[0,0.05,0.1,0.15,0.2,0.25,0.3,0.35,0.4,0.45,0.5],"labelExpr":"abs(datum.value/0.1-round(datum.value/0.1))<0.01 ? format(datum.value,'.1f') : ''","tickSize":{"condition":{"test":"abs(datum.value/0.1-round(datum.value/0.1))<0.01","value":4},"value":2}}}},
"layer":[{"transform":[{"filter":"datum.p=='b3' && isValid(datum.b)"}],"mark":{"type":"area","color":"#0000ff"},"encoding":{"y2":{"field":"b"}}},{"transform":[{"filter":"datum.p=='b3'"}],"mark":{"type":"line","color":"#333","strokeWidth":1.4},"encoding":{}}]},

{"width":231,"height":187,"title":{"text":"362→171","dx":0,"offset":-17},
"encoding":{"x":{"field":"t","type":"quantitative","title":null,"scale":{"domain":[4.8,6.6],"nice":false,"zero":false},"axis":{"values":[4.8,4.9,5,5.1,5.2,5.3,5.4,5.5,5.6,5.7,5.8,5.9,6,6.1,6.2,6.3,6.4,6.5,6.6],"labelExpr":"abs(datum.value*5-round(datum.value*5))<0.01 ? format(datum.value,'.1f') : ''","tickSize":{"condition":{"test":"abs(datum.value*5-round(datum.value*5))<0.01","value":4},"value":2}}},
"y":{"field":"v","type":"quantitative","title":null,"scale":{"domain":[-0.27,2.56],"nice":false,"zero":false},"axis":{"values":[0,0.25,0.5,0.75,1,1.25,1.5,1.75,2,2.25,2.5],"labelExpr":"abs(datum.value/0.5-round(datum.value/0.5))<0.01 ? format(datum.value,'.1f') : ''","tickSize":{"condition":{"test":"abs(datum.value/0.5-round(datum.value/0.5))<0.01","value":4},"value":2}}}},
"layer":[{"transform":[{"filter":"datum.p=='b4' && isValid(datum.b)"}],"mark":{"type":"area","color":"#0000ff"},"encoding":{"y2":{"field":"b"}}},{"transform":[{"filter":"datum.p=='b4'"}],"mark":{"type":"line","color":"#333","strokeWidth":1.4},"encoding":{}}]},

{"width":228,"height":190,
"resolve":{"axis":{"x":"independent","y":"independent"}},
"layer":[
{"encoding":{"x":{"field":"t","type":"quantitative","title":null,"scale":{"domain":[4.8,6.5],"nice":false,"zero":false},"axis":{"values":[4.8,4.9,5,5.1,5.2,5.3,5.4,5.5,5.6,5.7,5.8,5.9,6,6.1,6.2,6.3,6.4,6.5],"labelExpr":"abs(datum.value*5-round(datum.value*5))<0.01 ? format(datum.value,'.1f') : ''","tickSize":{"condition":{"test":"abs(datum.value*5-round(datum.value*5))<0.01","value":4},"value":2}}},
"y":{"field":"v","type":"quantitative","title":"Intensity","scale":{"domain":[-5,61.4],"nice":false,"zero":false},"axis":{"values":[0,5,10,15,20,25,30,35,40,45,50,55,60],"labelExpr":"abs(datum.value/10-round(datum.value/10))<0.01 ? format(datum.value,'d') : ''","tickSize":{"condition":{"test":"abs(datum.value/10-round(datum.value/10))<0.01","value":4},"value":2},"titleX":-64,"titleY":96,"titleAngle":270,"titleBaseline":"middle","titleAlign":"center"}}},
"layer":[{"transform":[{"filter":"datum.p=='c1' && isValid(datum.b)"}],"mark":{"type":"area","color":"#0000ff"},"encoding":{"y2":{"field":"b"}}},{"transform":[{"filter":"datum.p=='c1'"}],"mark":{"type":"line","color":"#333","strokeWidth":1.4},"encoding":{}}]},
{"transform":[{"filter":"datum.p=='c1'"}],"mark":{"type":"point","opacity":0},"encoding":{
"x":{"field":"t","type":"quantitative","scale":{"domain":[4.8,6.5],"nice":false,"zero":false},"axis":{"orient":"top","title":"(B)\u00a0\u00a0\u00a0\u00a0\u00a0Target analyte (3-T₁AM)","domain":false,"ticks":false,"labels":false,"titleX":-81,"titleY":-40,"titleAlign":"left","titleBaseline":"alphabetic","titleAngle":0,"titleColor":"#d81e1e","titleFontSize":32}},
"y":{"field":"v","type":"quantitative","scale":{"domain":[-5,61.4],"nice":false,"zero":false},"axis":{"orient":"right","title":"356→339","domain":false,"ticks":false,"labels":false,"titleX":-107,"titleY":13,"titleAlign":"center","titleBaseline":"alphabetic","titleAngle":0,"titleColor":"#111","titleFontSize":26}}}}
]},

{"width":231,"height":190,"title":{"text":"356→212","dx":12,"offset":-19},
"encoding":{"x":{"field":"t","type":"quantitative","title":null,"scale":{"domain":[4.8,6.5],"nice":false,"zero":false},"axis":{"values":[4.8,4.9,5,5.1,5.2,5.3,5.4,5.5,5.6,5.7,5.8,5.9,6,6.1,6.2,6.3,6.4,6.5],"labelExpr":"abs(datum.value*5-round(datum.value*5))<0.01 ? format(datum.value,'.1f') : ''","tickSize":{"condition":{"test":"abs(datum.value*5-round(datum.value*5))<0.01","value":4},"value":2}}},
"y":{"field":"v","type":"quantitative","title":null,"scale":{"domain":[-2.6,33],"nice":false,"zero":false},"axis":{"values":[0,2.5,5,7.5,10,12.5,15,17.5,20,22.5,25,27.5,30],"labelExpr":"abs(datum.value/5-round(datum.value/5))<0.01 ? format(datum.value,'d') : ''","tickSize":{"condition":{"test":"abs(datum.value/5-round(datum.value/5))<0.01","value":4},"value":2}}}},
"layer":[{"transform":[{"filter":"datum.p=='c2' && isValid(datum.b)"}],"mark":{"type":"area","color":"#0000ff"},"encoding":{"y2":{"field":"b"}}},{"transform":[{"filter":"datum.p=='c2'"}],"mark":{"type":"line","color":"#333","strokeWidth":1.4},"encoding":{}}]},

{"width":228,"height":190,"title":{"text":"356→195","dx":19,"offset":-19},
"encoding":{"x":{"field":"t","type":"quantitative","title":null,"scale":{"domain":[4.8,6.5],"nice":false,"zero":false},"axis":{"values":[4.8,4.9,5,5.1,5.2,5.3,5.4,5.5,5.6,5.7,5.8,5.9,6,6.1,6.2,6.3,6.4,6.5],"labelExpr":"abs(datum.value*5-round(datum.value*5))<0.01 ? format(datum.value,'.1f') : ''","tickSize":{"condition":{"test":"abs(datum.value*5-round(datum.value*5))<0.01","value":4},"value":2}}},
"y":{"field":"v","type":"quantitative","title":null,"scale":{"domain":[-1.07,10],"nice":false,"zero":false},"axis":{"values":[0,1,2,3,4,5,6,7,8,9,10],"labelExpr":"abs(datum.value/2-round(datum.value/2))<0.01 ? format(datum.value,'d') : ''","tickSize":{"condition":{"test":"abs(datum.value/2-round(datum.value/2))<0.01","value":4},"value":2}}}},
"layer":[{"transform":[{"filter":"datum.p=='c3' && isValid(datum.b)"}],"mark":{"type":"area","color":"#0000ff"},"encoding":{"y2":{"field":"b"}}},{"transform":[{"filter":"datum.p=='c3'"}],"mark":{"type":"line","color":"#333","strokeWidth":1.4},"encoding":{}}]},

{"width":231,"height":190,"title":{"text":"356→165","dx":22,"offset":-19},
"encoding":{"x":{"field":"t","type":"quantitative","title":null,"scale":{"domain":[4.8,6.5],"nice":false,"zero":false},"axis":{"values":[4.8,4.9,5,5.1,5.2,5.3,5.4,5.5,5.6,5.7,5.8,5.9,6,6.1,6.2,6.3,6.4,6.5],"labelExpr":"abs(datum.value*5-round(datum.value*5))<0.01 ? format(datum.value,'.1f') : ''","tickSize":{"condition":{"test":"abs(datum.value*5-round(datum.value*5))<0.01","value":4},"value":2}}},
"y":{"field":"v","type":"quantitative","title":null,"scale":{"domain":[-0.112,1.827],"nice":false,"zero":false},"axis":{"values":[0,0.1,0.2,0.3,0.4,0.5,0.6,0.7,0.8,0.9,1,1.1,1.2,1.3,1.4,1.5,1.6,1.7,1.8],"labelExpr":"abs(datum.value/0.2-round(datum.value/0.2))<0.01 ? format(datum.value,'.1f') : ''","tickSize":{"condition":{"test":"abs(datum.value/0.2-round(datum.value/0.2))<0.01","value":4},"value":2}}}},
"layer":[{"transform":[{"filter":"datum.p=='c4' && isValid(datum.b)"}],"mark":{"type":"area","color":"#0000ff"},"encoding":{"y2":{"field":"b"}}},{"transform":[{"filter":"datum.p=='c4'"}],"mark":{"type":"line","color":"#333","strokeWidth":1.4},"encoding":{}}]},

{"width":228,"height":185,
"resolve":{"axis":{"x":"independent","y":"independent"}},
"layer":[
{"encoding":{"x":{"field":"t","type":"quantitative","title":"Time (min)","scale":{"domain":[4.89,6.47],"nice":false,"zero":false},"axis":{"values":[4.9,5,5.1,5.2,5.3,5.4,5.5,5.6,5.7,5.8,5.9,6,6.1,6.2,6.3,6.4],"labelExpr":"abs(datum.value*5-round(datum.value*5))<0.01 ? format(datum.value,'.1f') : ''","tickSize":{"condition":{"test":"abs(datum.value*5-round(datum.value*5))<0.01","value":4},"value":2},"titleX":107,"titleY":70,"titleBaseline":"alphabetic","titleAlign":"center"}},
"y":{"field":"v","type":"quantitative","title":"Intensity","scale":{"domain":[-0.226,3.26],"nice":false,"zero":false},"axis":{"values":[0,0.25,0.5,0.75,1,1.25,1.5,1.75,2,2.25,2.5,2.75,3],"labelExpr":"abs(datum.value/0.5-round(datum.value/0.5))<0.01 ? format(datum.value,'.1f') : ''","tickSize":{"condition":{"test":"abs(datum.value/0.5-round(datum.value/0.5))<0.01","value":4},"value":2},"titleX":-64,"titleY":73,"titleAngle":270,"titleBaseline":"middle","titleAlign":"center"}}},
"layer":[{"transform":[{"filter":"datum.p=='d1' && isValid(datum.b)"}],"mark":{"type":"area","color":"#0000ff"},"encoding":{"y2":{"field":"b"}}},{"transform":[{"filter":"datum.p=='d1'"}],"mark":{"type":"line","color":"#333","strokeWidth":1.4},"encoding":{}}]},
{"transform":[{"filter":"datum.p=='d1'"}],"mark":{"type":"point","opacity":0},"encoding":{
"x":{"field":"t","type":"quantitative","scale":{"domain":[4.89,6.47],"nice":false,"zero":false},"axis":{"orient":"top","title":"Internal standard (¹³C₆-T₁AM)","domain":false,"ticks":false,"labels":false,"titleX":0,"titleY":-51,"titleAlign":"left","titleBaseline":"alphabetic","titleAngle":0,"titleColor":"#d81e1e","titleFontSize":32}},
"y":{"field":"v","type":"quantitative","scale":{"domain":[-0.226,3.26],"nice":false,"zero":false},"axis":{"orient":"right","title":"362→345","domain":false,"ticks":false,"labels":false,"titleX":-89,"titleY":3,"titleAlign":"center","titleBaseline":"alphabetic","titleAngle":0,"titleColor":"#111","titleFontSize":26}}}}
]},

{"width":231,"height":185,"title":{"text":"362→218","dx":30,"offset":-16},
"encoding":{"x":{"field":"t","type":"quantitative","title":"Time (min)","scale":{"domain":[4.89,6.47],"nice":false,"zero":false},"axis":{"values":[4.9,5,5.1,5.2,5.3,5.4,5.5,5.6,5.7,5.8,5.9,6,6.1,6.2,6.3,6.4],"labelExpr":"abs(datum.value*5-round(datum.value*5))<0.01 ? format(datum.value,'.1f') : ''","tickSize":{"condition":{"test":"abs(datum.value*5-round(datum.value*5))<0.01","value":4},"value":2},"titleX":130,"titleY":70,"titleBaseline":"alphabetic","titleAlign":"center"}},
"y":{"field":"v","type":"quantitative","title":null,"scale":{"domain":[-0.042,0.665],"nice":false,"zero":false},"axis":{"values":[0,0.05,0.1,0.15,0.2,0.25,0.3,0.35,0.4,0.45,0.5,0.55,0.6],"labelExpr":"abs(datum.value/0.1-round(datum.value/0.1))<0.01 ? format(datum.value,'.1f') : ''","tickSize":{"condition":{"test":"abs(datum.value/0.1-round(datum.value/0.1))<0.01","value":4},"value":2}}}},
"layer":[{"transform":[{"filter":"datum.p=='d2' && isValid(datum.b)"}],"mark":{"type":"area","color":"#0000ff"},"encoding":{"y2":{"field":"b"}}},{"transform":[{"filter":"datum.p=='d2'"}],"mark":{"type":"line","color":"#333","strokeWidth":1.4},"encoding":{}}]},

{"width":228,"height":185,"title":{"text":"362→201","dx":14,"offset":-16},
"encoding":{"x":{"field":"t","type":"quantitative","title":"Time (min)","scale":{"domain":[4.89,6.47],"nice":false,"zero":false},"axis":{"values":[4.9,5,5.1,5.2,5.3,5.4,5.5,5.6,5.7,5.8,5.9,6,6.1,6.2,6.3,6.4],"labelExpr":"abs(datum.value*5-round(datum.value*5))<0.01 ? format(datum.value,'.1f') : ''","tickSize":{"condition":{"test":"abs(datum.value*5-round(datum.value*5))<0.01","value":4},"value":2},"titleX":121,"titleY":70,"titleBaseline":"alphabetic","titleAlign":"center"}},
"y":{"field":"v","type":"quantitative","title":null,"scale":{"domain":[-0.0227,0.258],"nice":false,"zero":false},"axis":{"values":[0,0.025,0.05,0.075,0.1,0.125,0.15,0.175,0.2,0.225,0.25],"labelExpr":"abs(datum.value/0.05-round(datum.value/0.05))<0.01 ? format(datum.value,'.2f') : ''","tickSize":{"condition":{"test":"abs(datum.value/0.05-round(datum.value/0.05))<0.01","value":4},"value":2}}}},
"layer":[{"transform":[{"filter":"datum.p=='d3' && isValid(datum.b)"}],"mark":{"type":"area","color":"#0000ff"},"encoding":{"y2":{"field":"b"}}},{"transform":[{"filter":"datum.p=='d3'"}],"mark":{"type":"line","color":"#333","strokeWidth":1.4},"encoding":{}}]},

{"width":231,"height":185,"title":{"text":"362→171","dx":20,"offset":-16},
"encoding":{"x":{"field":"t","type":"quantitative","title":"Time (min)","scale":{"domain":[4.89,6.47],"nice":false,"zero":false},"axis":{"values":[4.9,5,5.1,5.2,5.3,5.4,5.5,5.6,5.7,5.8,5.9,6,6.1,6.2,6.3,6.4],"labelExpr":"abs(datum.value*5-round(datum.value*5))<0.01 ? format(datum.value,'.1f') : ''","tickSize":{"condition":{"test":"abs(datum.value*5-round(datum.value*5))<0.01","value":4},"value":2},"titleX":132,"titleY":70,"titleBaseline":"alphabetic","titleAlign":"center"}},
"y":{"field":"v","type":"quantitative","title":null,"scale":{"domain":[-0.0232,0.307],"nice":false,"zero":false},"axis":{"values":[0,0.025,0.05,0.075,0.1,0.125,0.15,0.175,0.2,0.225,0.25,0.275,0.3],"labelExpr":"abs(datum.value/0.05-round(datum.value/0.05))<0.01 ? format(datum.value,'.2f') : ''","tickSize":{"condition":{"test":"abs(datum.value/0.05-round(datum.value/0.05))<0.01","value":4},"value":2}}}},
"layer":[{"transform":[{"filter":"datum.p=='d4' && isValid(datum.b)"}],"mark":{"type":"area","color":"#0000ff"},"encoding":{"y2":{"field":"b"}}},{"transform":[{"filter":"datum.p=='d4'"}],"mark":{"type":"line","color":"#333","strokeWidth":1.4},"encoding":{}}]}

]
}
